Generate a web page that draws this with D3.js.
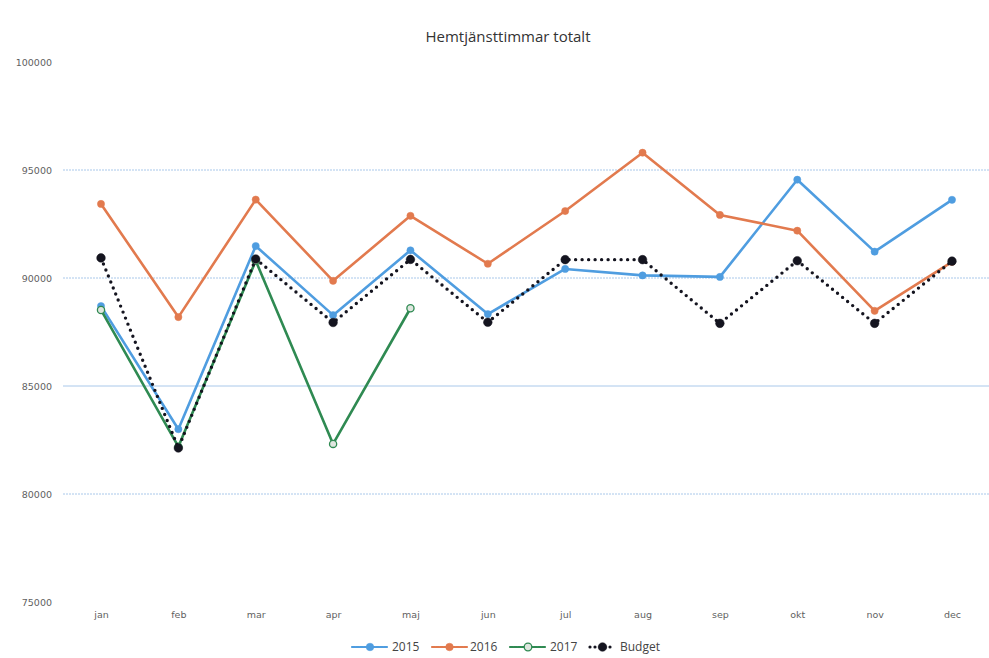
<!DOCTYPE html>
<html lang="sv">
<head>
<meta charset="UTF-8">
<title>Hemtjänsttimmar totalt</title>
<script src="https://cdnjs.cloudflare.com/ajax/libs/d3/7.8.5/d3.min.js"></script>
<style>
  body { margin: 0; background: #fff; }
  svg { display: block; }
  .tick text { font-family: "DejaVu Sans", sans-serif; font-size: 9.5px; fill: #5f5f5f; }
  .title { font-family: "Open Sans", sans-serif; font-size: 15px; fill: #333; }
  .legend text { font-family: "Open Sans", sans-serif; font-size: 12px; fill: #444; }
</style>
</head>
<body>
<div id="chart"></div>
<script>
// månader och serier
const months = ["jan", "feb", "mar", "apr", "maj", "jun", "jul", "aug", "sep", "okt", "nov", "dec"];
const v2015 = [88700, 83000, 91480, 88280, 91280, 88330, 90420, 90120, 90050, 94550, 91220, 93620];
const v2016 = [93430, 88190, 93630, 89870, 92880, 90660, 93100, 95800, 92920, 92190, 88480, 90750];
const v2017 = [88520, 82190, 90800, 82320, 88600];
const budget = [90930, 82130, 90880, 87940, 90860, 87950, 90850, 90850, 87900, 90800, 87900, 90780];
const yTicks = [75000, 80000, 85000, 90000, 95000, 100000];

const series = [
  { name: "2015", values: v2015, color: "#4f9de0", fill: "#4f9de0", dotted: false },
  { name: "2016", values: v2016, color: "#e27a4e", fill: "#e27a4e", dotted: false },
  { name: "2017", values: v2017, color: "#2f8a52", fill: "#dfe6df", dotted: false },
  { name: "Budget", values: budget, color: "#14141f", fill: "#14141f", dotted: true }
];

const width = 989, height = 658;

const svg = d3.select("#chart").append("svg")
  .attr("width", width)
  .attr("height", height);

const x = d3.scalePoint()
  .domain(months)
  .range([101, 952]);

const y = d3.scaleLinear()
  .domain([75000, 100000])
  .range([602, 62]);

// rutnät
svg.append("g")
  .selectAll("line")
  .data(yTicks.filter(t => t > 75000 && t < 100000))
  .join("line")
  .attr("x1", 63)
  .attr("x2", 989)
  .attr("y1", d => y(d))
  .attr("y2", d => y(d))
  .attr("stroke", "#a9c8ea")
  .attr("stroke-width", 1)
  .attr("stroke-dasharray", d => d === 85000 ? null : "2,1");

// y-axel
const yAxis = svg.append("g")
  .attr("transform", "translate(52,0)")
  .call(d3.axisLeft(y).tickValues(yTicks).tickSize(0).tickPadding(0).tickFormat(d3.format("d")));
yAxis.select(".domain").remove();

// x-axel
const xAxis = svg.append("g")
  .attr("transform", "translate(0,611)")
  .call(d3.axisBottom(x).tickSize(0).tickPadding(0));
xAxis.select(".domain").remove();
xAxis.selectAll("text").attr("dy", "0.71em");

// titel
svg.append("text")
  .attr("class", "title")
  .attr("x", 508)
  .attr("y", 42)
  .attr("text-anchor", "middle")
  .text("Hemtjänsttimmar totalt");

const line = d3.line()
  .x((d, i) => x(months[i]))
  .y(d => y(d));

series.forEach(s => {
  const g = svg.append("g");
  g.append("path")
    .datum(s.values)
    .attr("d", line)
    .attr("fill", "none")
    .attr("stroke", s.color)
    .attr("stroke-width", s.dotted ? 3.4 : 2.6)
    .attr("stroke-linecap", "round")
    .attr("stroke-linejoin", "round")
    .attr("stroke-dasharray", s.dotted ? "0,6.5" : null);

  g.selectAll("circle")
    .data(s.values)
    .join("circle")
    .attr("cx", (d, i) => x(months[i]))
    .attr("cy", d => y(d))
    .attr("r", s.dotted ? 4.3 : 3.6)
    .attr("fill", s.fill)
    .attr("stroke", s.color)
    .attr("stroke-width", s.name === "2017" ? 1.3 : 0.5);
});

// förklaring
const legendPos = [
  { x0: 352, x1: 388, tx: 392 },
  { x0: 432, x1: 467, tx: 470 },
  { x0: 510, x1: 546, tx: 550 },
  { x0: 590, x1: 615, tx: 620 }
];
const legend = svg.append("g").attr("class", "legend");
series.forEach((s, i) => {
  const p = legendPos[i];
  const ly = 647;
  const g = legend.append("g");
  g.append("line")
    .attr("x1", p.x0).attr("x2", p.x1)
    .attr("y1", ly).attr("y2", ly)
    .attr("stroke", s.color)
    .attr("stroke-width", s.dotted ? 3.2 : 2.2)
    .attr("stroke-linecap", "round")
    .attr("stroke-dasharray", s.dotted ? "0,5" : "3,1");
  g.append("circle")
    .attr("cx", (p.x0 + p.x1) / 2)
    .attr("cy", ly)
    .attr("r", s.dotted ? 4.3 : 3.8)
    .attr("fill", s.fill)
    .attr("stroke", s.color)
    .attr("stroke-width", s.name === "2017" ? 1.3 : 0.5);
  g.append("text")
    .attr("x", p.tx)
    .attr("y", ly)
    .attr("dy", "0.35em")
    .text(s.name);
});
</script>
</body>
</html>
